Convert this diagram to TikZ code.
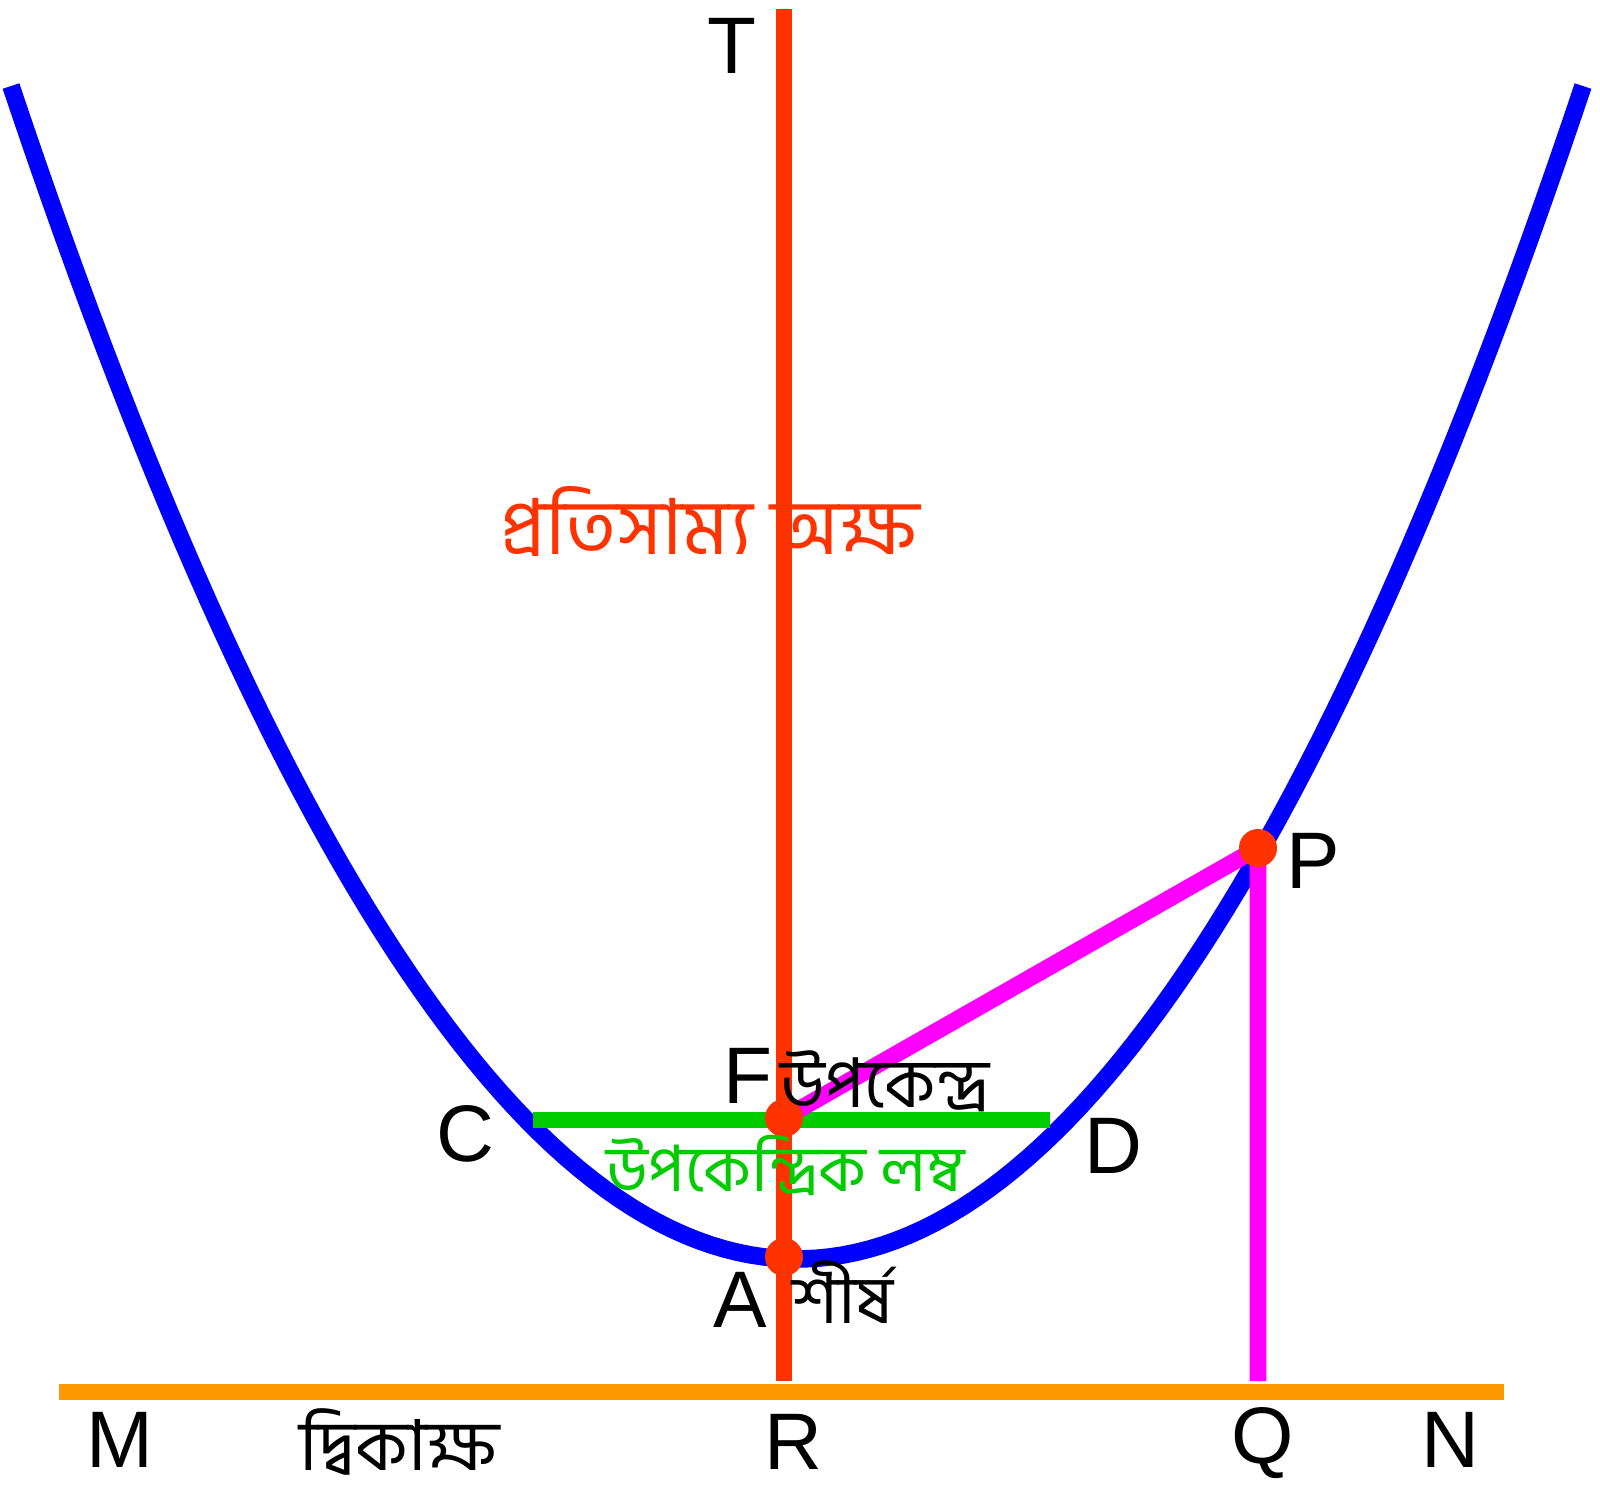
\documentclass[tikz,border=0pt]{standalone}
\usepackage{fontspec}
\setmainfont{Liberation Sans}
\newfontfamily\bn[Script=Bengali]{Hind Siliguri}
\definecolor{axisred}{HTML}{FF3300}
\definecolor{latgreen}{HTML}{00CC00}
\definecolor{dirorange}{HTML}{FF9900}
\definecolor{chordpink}{HTML}{FF00FF}
\begin{document}
\begin{tikzpicture}[x=0.01cm,y=-0.01cm,
lbl/.style={font=\fontsize{22.8}{24}\selectfont,inner sep=0pt},
bnl/.style={font=\bn\fontsize{20}{22}\selectfont,inner sep=0pt}]
\useasboundingbox(0,0)rectangle(1600,1501);
\coordinate(A)at(784,1257);
\coordinate(F)at(784,1118);
\coordinate(P)at(1258,848);
\coordinate(Ttop)at(784,9);
\coordinate(Rbot)at(784,1381);
\coordinate(Qbot)at(1258,1381);
\coordinate(Mend)at(59,1392);
\coordinate(Nend)at(1504,1392);
\coordinate(Cend)at(533,1120);
\coordinate(Dend)at(1050,1120);
% parabola
\draw[blue,line width=5pt,domain=-786:786,samples=120]plot({797+\x},{1259-18.986*(\x/100)^2});
\draw[dirorange,line width=4.8pt](Mend)--(Nend);
\draw[latgreen,line width=4.6pt](Cend)--(Dend);
\draw[chordpink,line width=4.8pt](F)--(P)--(Qbot);
\draw[axisred,line width=4.6pt](Ttop)--(Rbot);
\foreach\p in{A,F,P}{
\fill[axisred](\p)circle(19);}
% labels
\node[lbl](T)at(732,46){T};
\node[lbl](M)at(120,1440){M};
\node[lbl](R)at(793,1442){R};
\node[lbl](Q)at(1263,1443){Q};
\node[lbl](N)at(1450,1440){N};
\node[lbl](Pl)at(1313,861){P};
\node[lbl](Fl)at(748,1076){F};
\node[lbl](Cl)at(465,1134){C};
\node[lbl](Dl)at(1113,1146){D};
\node[lbl](Al)at(740,1300){A};
\node[bnl,axisred,font=\bn\fontsize{22}{24}\selectfont](sym)at(710,521){প্রতিসাম্য অক্ষ};
\node[bnl,font=\bn\fontsize{19.5}{21}\selectfont](foc)at(885,1081){উপকেন্দ্র};
\node[bnl,latgreen,font=\bn\fontsize{18.2}{20}\selectfont](lat)at(786,1165){উপকেন্দ্রিক লম্ব};
\node[bnl,font=\bn\fontsize{19}{21}\selectfont](ver)at(843,1292){শীর্ষ};
\node[bnl](dir)at(400,1442){দ্বিকাক্ষ};
\end{tikzpicture}
\end{document}
